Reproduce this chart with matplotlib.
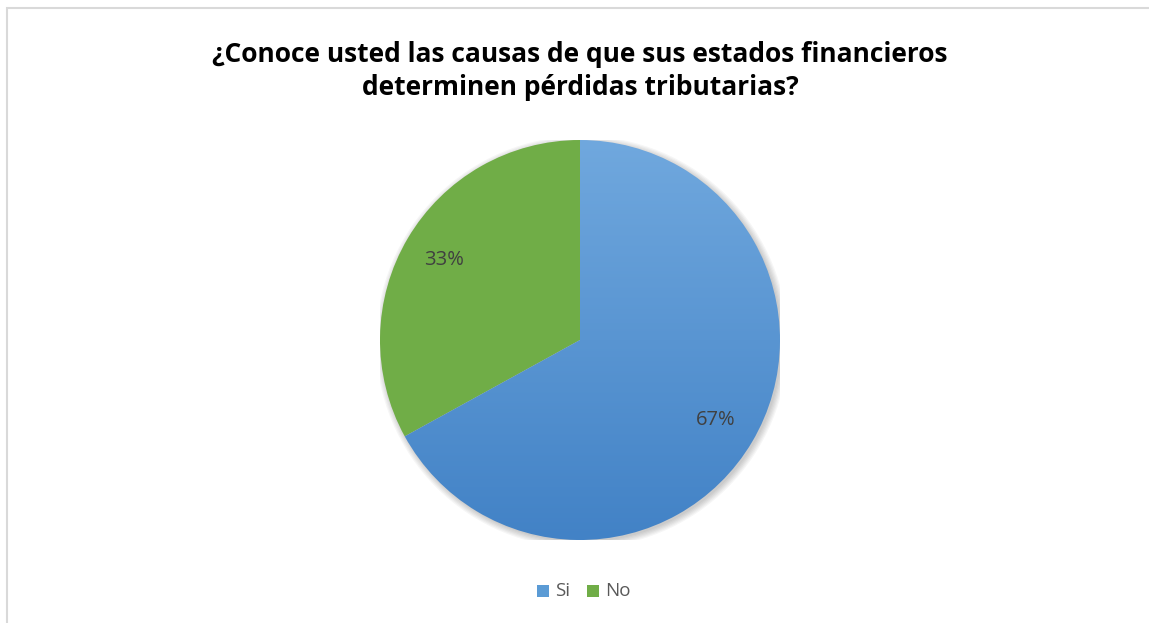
import matplotlib.pyplot as plt
import numpy as np
from matplotlib.patches import Rectangle, Circle

categories = ["Si", "No"]
values = [67, 33]
colors = ["#5B9BD5", "#70AD47"]
title = "¿Conoce usted las causas de que sus estados financieros\ndeterminen pérdidas tributarias?"

plt.rcParams['font.family'] = ['Open Sans', 'DejaVu Sans']

W, H = 1149, 623
fig = plt.figure(figsize=(W / 100, H / 100), dpi=100)

# light grey frame around the chart area
fig.patches.append(Rectangle((7 / W, -0.1), 1.2, (H - 8) / H + 0.1, transform=fig.transFigure,
                             fill=False, edgecolor="#D9D9D9", linewidth=1.5))

cx, cy, r = 580, 340, 200
ax = fig.add_axes([(cx - r) / W, (H - cy - r) / H, 2 * r / W, 2 * r / H])

# soft shadow behind the pie
for k in range(6):
    ax.add_patch(Circle((0.01, -0.01), 1.0 + k * 0.006, facecolor="#000000", alpha=0.035,
                        edgecolor="none", zorder=0))

wedges, texts, autotexts = ax.pie(values, colors=colors, startangle=90, counterclock=False,
                                  autopct="%1.0f%%", pctdistance=0.79,
                                  textprops=dict(color="#404040", fontsize=14.5))

# vertical gradient on the blue slice
grad = np.linspace(0, 1, 256).reshape(-1, 1)
top = np.array([112, 168, 222]) / 255
bottom = np.array([66, 130, 198]) / 255
img = top + (bottom - top) * grad[..., None]
im = ax.imshow(img, extent=[-1, 1, -1, 1], origin="upper", aspect="auto", zorder=wedges[0].get_zorder())
im.set_clip_path(wedges[0])
wedges[0].set_facecolor("none")
for t in autotexts:
    t.set_zorder(5)
ax.set_xlim(-1, 1)
ax.set_ylim(-1, 1)
ax.set_aspect("equal")
ax.axis("off")

fig.text(cx / W, 1 - 71 / H, title, ha="center", va="center", fontsize=19, fontweight="bold",
         color="#000000", linespacing=1.32)

# legend
leg_y = 1 - 591 / H
for x, lab, c in [(543, "Si", colors[0]), (593, "No", colors[1])]:
    fig.patches.append(Rectangle(((x - 6) / W, leg_y - 6 / H), 12 / W, 12 / H,
                                 transform=fig.transFigure, facecolor=c, edgecolor="none"))
    fig.text((x + 12) / W, leg_y, lab, ha="left", va="center", fontsize=13.5, color="#595959")

fig.savefig("out.png", dpi=100, facecolor="white")
